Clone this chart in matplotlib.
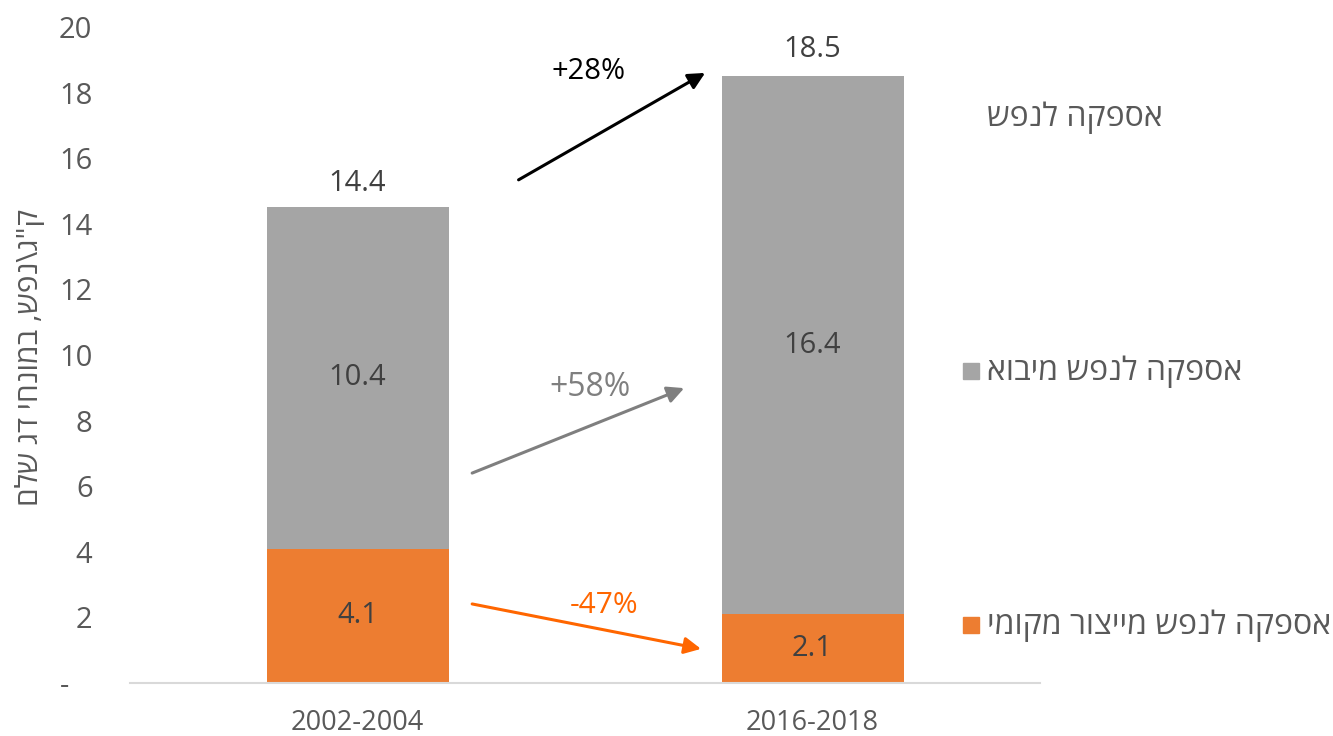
import matplotlib
matplotlib.use("Agg")
import matplotlib.pyplot as plt
from matplotlib.patches import Rectangle

# ---------- data ----------
periods = ["2002-2004", "2016-2018"]
local_supply = [4.1, 2.1]      # orange, bottom
import_supply = [10.4, 16.4]   # gray, top
total_supply = [14.4, 18.5]

yticks = [0, 2, 4, 6, 8, 10, 12, 14, 16, 18, 20]
ytick_labels = ["-   ", "2", "4", "6", "8", "10", "12", "14", "16", "18", "20"]

legend_names = ["אספקה לנפש", "אספקה לנפש מיבוא", "אספקה לנפש מייצור מקומי"]
ylabel_text = 'ק"ג\\נפש, במונחי דג שלם'

# change arrows: (text, start, end, text position, colour, font size)
changes = [
    ("+28%", (0.354, 15.34), (0.764, 18.6), (0.508, 18.63), "#000000", 21),
    ("+58%", (0.252, 6.40), (0.718, 8.99), (0.51, 9.0), "#7F7F7F", 23),
    ("-47%", (0.252, 2.41), (0.755, 1.04), (0.541, 2.35), "#FF6600", 21.5),
]

ORANGE = "#ED7D31"
GRAY = "#A5A5A5"
TXT = "#595959"
DARK = "#404040"


def rtl(s):
    # matplotlib has no bidi support, so flip hebrew strings by hand
    return s[::-1]


plt.rcParams["font.family"] = ["Open Sans", "DejaVu Sans"]

fig = plt.figure(figsize=(13.33, 7.36), dpi=100)
ax = fig.add_axes([130 / 1333, 1 - 683 / 736, 910 / 1333, (683 - 27) / 736])

x = list(range(len(periods)))
ax.bar(x, local_supply, width=0.4, color=ORANGE, zorder=2)
ax.bar(x, import_supply, width=0.4, bottom=local_supply, color=GRAY, zorder=2)

# segment labels
for i in x:
    ax.text(i, local_supply[i] / 2, f"{local_supply[i]:.1f}", ha="center", va="center",
            fontsize=21, color=DARK)
    ax.text(i, local_supply[i] + import_supply[i] / 2, f"{import_supply[i]:.1f}",
            ha="center", va="center", fontsize=21, color=DARK)
    ax.annotate(f"{total_supply[i]:.1f}", (i, total_supply[i]), xytext=(0, 9),
                textcoords="offset points", ha="center", va="bottom",
                fontsize=21, color=DARK)

# change arrows
for label, start, end, tpos, col, fs in changes:
    ax.annotate("", xy=end, xytext=start,
                arrowprops=dict(arrowstyle="-|>,head_length=1.0,head_width=0.5",
                                color=col, lw=2.2, shrinkA=0, shrinkB=0))
    ax.text(tpos[0], tpos[1], label, ha="center", va="center", fontsize=fs, color=col)

ax.set_xlim(-0.5, 1.5)
ax.set_ylim(0, 20)
ax.set_xticks(x)
ax.set_xticklabels(periods, fontsize=19.5, color=TXT)
ax.set_yticks(yticks)
ax.set_yticklabels(ytick_labels, fontsize=21, color=TXT)
ax.tick_params(axis="y", length=0, pad=27)
ax.tick_params(axis="x", length=0, pad=19)

for side in ["top", "right", "left"]:
    ax.spines[side].set_visible(False)
ax.spines["bottom"].set_color("#D9D9D9")
ax.spines["bottom"].set_linewidth(1.5)

# y label
fig.text(30 / 1333, 1 - 357 / 736, rtl(ylabel_text), rotation=90, ha="center", va="center",
         fontsize=21.5, color=TXT)

# legend drawn by hand, square left of the text
legend_y = [117, 371, 625]
legend_colors = [None, GRAY, ORANGE]
for name, py, col in zip(legend_names, legend_y, legend_colors):
    fy = 1 - py / 736
    if col is not None:
        fig.patches.append(Rectangle((963 / 1333, fy - 8 / 736), 16 / 1333, 16 / 736,
                                     transform=fig.transFigure, color=col))
    fig.text(987 / 1333, fy, rtl(name), ha="left", va="center", fontsize=23, color=TXT)

fig.savefig("out.png", dpi=100)
